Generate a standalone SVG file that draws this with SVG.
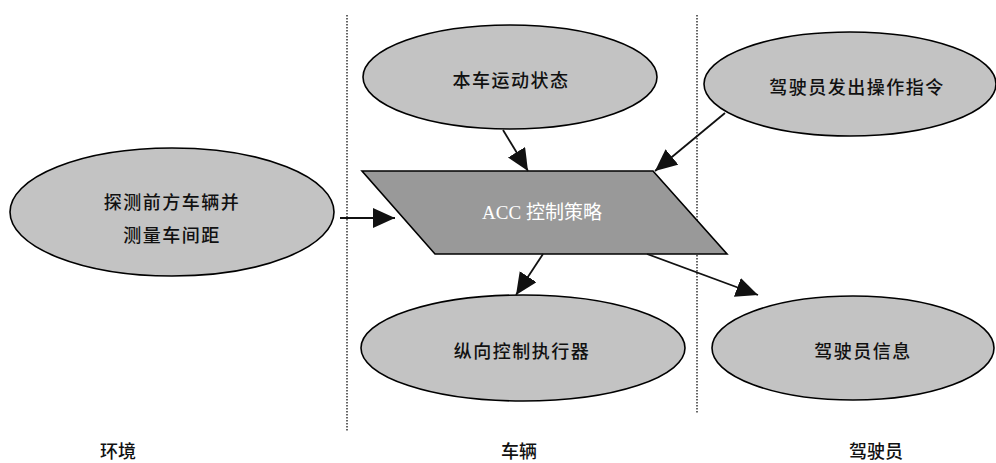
<svg xmlns="http://www.w3.org/2000/svg" width="996" height="463" viewBox="0 0 996 463">
<defs>
<style>
.node{fill:#c3c3c3;stroke:#000;stroke-width:1.6}
.para{fill:#999;stroke:#000;stroke-width:1.6}
.t{font-family:"Noto Sans CJK SC","Noto Sans",sans-serif;font-size:18px;font-weight:500;letter-spacing:1.5px;fill:#111;text-anchor:middle;dominant-baseline:central}
.w{font-family:"Liberation Serif","Noto Sans CJK SC",serif;font-size:19px;fill:#fff;text-anchor:middle;dominant-baseline:central}
.lbl{font-family:"Noto Sans CJK SC",sans-serif;font-size:18px;font-weight:500;fill:#111;text-anchor:middle;dominant-baseline:central}
.div{stroke:#333;stroke-width:1.5;stroke-dasharray:1.5 1.5;fill:none}
.c{stroke:#111;stroke-width:1.8;fill:none}
</style>
<marker id="ah" markerWidth="24" markerHeight="22" refX="22" refY="10" orient="auto" markerUnits="userSpaceOnUse">
<path d="M0,0 L22,10 L0,20 Z" fill="#111"/>
</marker>
</defs>
<rect width="996" height="463" fill="#fff"/>
<line class="div" x1="347" y1="15" x2="347" y2="432"/>
<line class="div" x1="697" y1="15" x2="697" y2="413"/>
<g id="n-detect">
<ellipse class="node" cx="172" cy="212" rx="162" ry="64"/>
<text class="t" x="172" y="201">探测前方车辆并</text>
<text class="t" x="172" y="234">测量车间距</text>
</g>
<g id="n-state">
<ellipse class="node" cx="510" cy="77" rx="147" ry="52"/>
<text class="t" x="511" y="79">本车运动状态</text>
</g>
<g id="n-driver-cmd">
<ellipse class="node" cx="850" cy="84" rx="146" ry="52"/>
<text class="t" x="857" y="86">驾驶员发出操作指令</text>
</g>
<g id="n-acc">
<polygon class="para" points="362,171 653,171 727,254 435,254"/>
<text class="w" x="542" y="212">ACC 控制策略</text>
</g>
<g id="n-actuator">
<ellipse class="node" cx="523" cy="348" rx="162" ry="53"/>
<text class="t" x="522" y="350">纵向控制执行器</text>
</g>
<g id="n-driver-info">
<ellipse class="node" cx="853" cy="348" rx="141" ry="52"/>
<text class="t" x="863" y="350">驾驶员信息</text>
</g>
<g id="connectors">
<line class="c" x1="340" y1="218" x2="395" y2="218" marker-end="url(#ah)"/>
<line class="c" x1="503" y1="130" x2="528" y2="171" marker-end="url(#ah)"/>
<line class="c" x1="725" y1="113" x2="655" y2="171" marker-end="url(#ah)"/>
<line class="c" x1="543" y1="254" x2="516" y2="295" marker-end="url(#ah)"/>
<line class="c" x1="647" y1="254" x2="758" y2="295" marker-end="url(#ah)"/>
</g>
<text class="lbl" x="118" y="450">环境</text>
<text class="lbl" x="519" y="450">车辆</text>
<text class="lbl" x="876" y="450">驾驶员</text>
</svg>
